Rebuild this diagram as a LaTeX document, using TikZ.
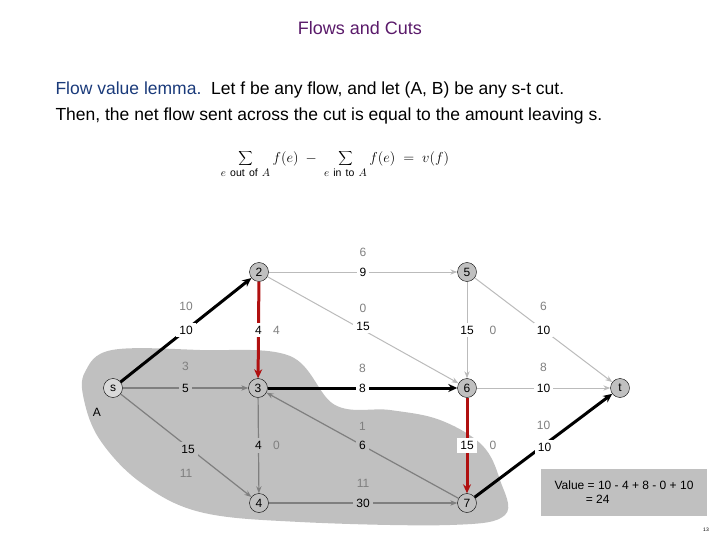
\documentclass[tikz,border=0pt]{standalone}
\usepackage{fontspec}
\setmainfont{Liberation Sans}
\usetikzlibrary{arrows.meta}
\definecolor{blobg}{HTML}{C0C0C0}
\definecolor{lg}{HTML}{BBBBBB}
\definecolor{mg}{HTML}{7F7F7F}
\definecolor{rd}{HTML}{B01010}
\definecolor{ttl}{HTML}{5A1A6A}
\definecolor{blu}{HTML}{1A3A7A}
\tikzset{
 vx/.style={circle,draw,fill=blobg,minimum size=19pt,inner sep=0pt,font=\fontsize{12}{14}\selectfont},
 lab/.style={fill=white,inner sep=3pt,font=\fontsize{12}{14}\selectfont},
 labg/.style={fill=blobg,inner sep=3pt,font=\fontsize{12}{14}\selectfont},
 gl/.style={text=mg,inner sep=1pt,font=\fontsize{12}{14}\selectfont},
 light/.style={draw=lg,line width=1pt,-{Stealth[length=7pt]}},
 mid/.style={draw=mg,line width=1.2pt,-{Stealth[length=7pt]}},
 heavy/.style={draw=black,line width=3pt,-{Stealth[length=9pt,width=8pt]}},
 redh/.style={draw=rd,line width=3pt,-{Stealth[length=9pt,width=8pt]}},
}
\begin{document}
\begin{tikzpicture}[x=1pt,y=-1pt]
\useasboundingbox (0,0) rectangle (720,540);
\fill[blobg] plot[smooth cycle,tension=0.6] coordinates {(85,372) (112,350) (200,350) (290,356) (335,405) (390,410) (440,420) (482,445) (500,480) (505,515) (450,525) (300,522) (200,512) (140,482) (100,440) (84,400)};
\node[text=ttl,font=\fontsize{18}{20}\selectfont] (title) at (360,28) {Flows and Cuts};
\node[anchor=west,font=\fontsize{17.5}{20}\selectfont] (l1) at (52,90) {\textcolor{blu}{Flow value lemma.}\ \ Let f be any flow, and let (A, B) be any s-t cut.};
\node[anchor=west,font=\fontsize{17.5}{20}\selectfont] (l2) at (52,116) {Then, the net flow sent across the cut is equal to the amount leaving s.};
\node[font=\fontsize{15}{18}\selectfont] (formula) at (335,164) {$\displaystyle\sum_{e\ \mathrm{out\ of}\ A} f(e) \;-\; \sum_{e\ \mathrm{in\ to}\ A} f(e) \;=\; v(f)$};
\node[vx,fill=white!40!blobg] (s) at (113,388) {s};
\node[vx] (n2) at (259,272) {2};
\node[vx] (n3) at (258,388) {3};
\node[vx] (n4) at (259,503) {4};
\node[vx] (n5) at (467,272) {5};
\node[vx] (n6) at (467,388) {6};
\node[vx] (n7) at (467,503) {7};
\node[vx] (t) at (620,388) {t};
\node[font=\fontsize{12}{14}\selectfont] (A) at (97,412) {A};
\path[heavy] (s) -- node[lab]{10} node[gl,yshift=24pt]{10} (n2);
\path[mid] (s) -- node[labg]{5} node[gl,yshift=22pt]{3} (n3);
\path[mid] (s) -- node[labg,xshift=2pt,yshift=-4pt]{15} node[gl,yshift=-28pt]{11} (n4);
\path[redh] (n2) -- node[lab]{4} node[gl,xshift=18pt]{4} (n3);
\path[light] (n2) -- node[lab]{9} node[gl,yshift=20pt]{6} (n5);
\path[light] (n2) -- node[lab,yshift=4pt]{15} node[gl,yshift=22pt]{0} (n6);
\path[heavy] (n3) -- node[lab]{8} node[gl,yshift=20pt]{8} (n6);
\path[mid] (n3) -- node[labg]{4} node[gl,xshift=18pt]{0} (n4);
\path[mid] (n7) -- node[labg]{6} node[gl,yshift=19pt]{1} (n3);
\path[mid] (n4) -- node[labg]{30} node[gl,yshift=20pt]{11} (n7);
\path[light] (n5) -- node[lab]{15} node[gl,xshift=26pt]{0} (n6);
\path[light] (n5) -- node[lab]{10} node[gl,yshift=24pt]{6} (t);
\path[light] (n6) -- node[lab]{10} node[gl,yshift=21pt]{8} (t);
\path[redh] (n6) -- node[lab]{15} node[gl,xshift=26pt]{0} (n7);
\path[heavy] (n7) -- node[lab,xshift=1pt,yshift=-2pt]{10} node[gl,yshift=20pt]{10} (t);
\node[fill=blobg,minimum width=166pt,minimum height=47pt,font=\fontsize{12}{14}\selectfont,align=left] (val) at (624,492) {Value = 10 - 4 + 8 - 0 + 10\\\hspace*{2.6em}= 24};
\node[font=\tiny] (pg) at (706,530) {13};
\end{tikzpicture}
\end{document}
